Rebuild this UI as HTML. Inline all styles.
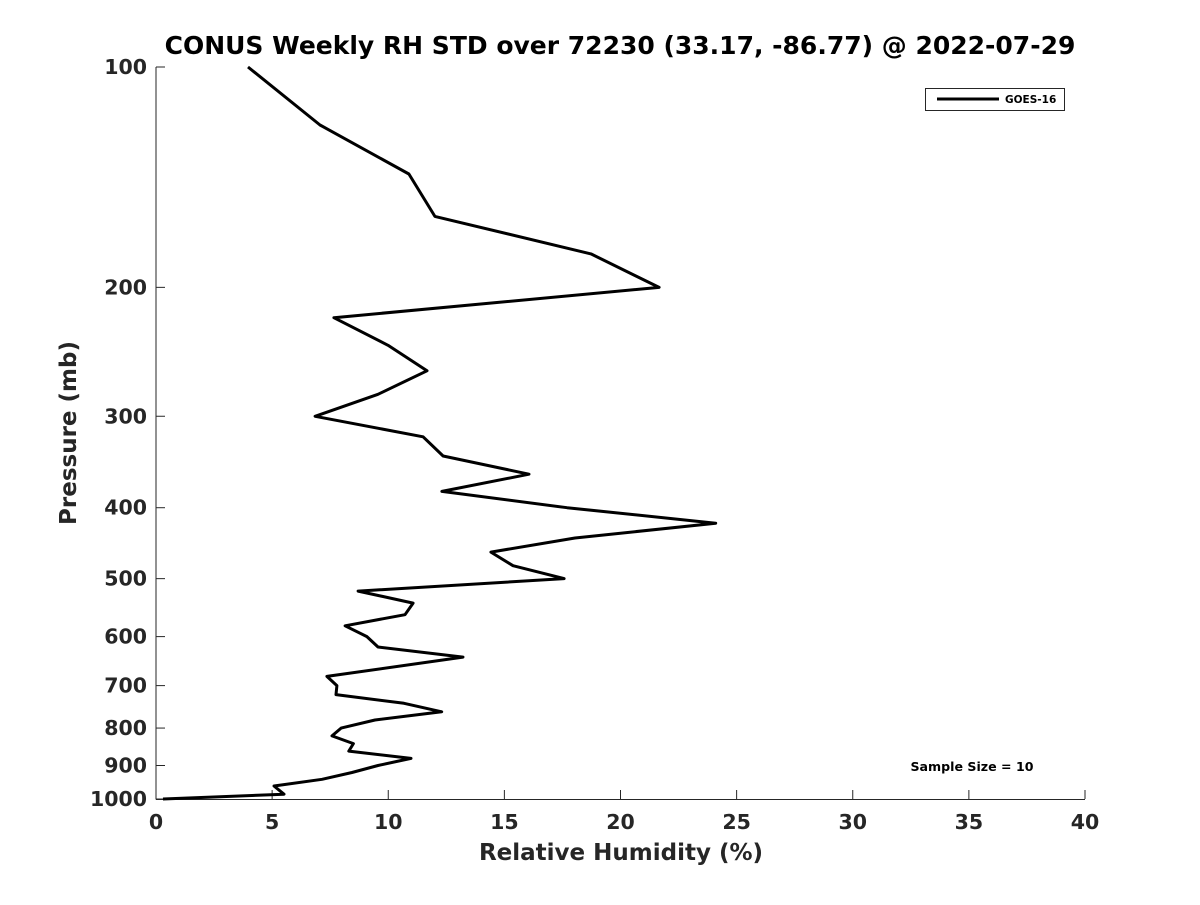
<!DOCTYPE html>
<html><head><meta charset="utf-8"><style>
body{margin:0;background:#fff}
svg text{font-family:"DejaVu Sans","Liberation Sans",sans-serif;font-weight:bold;fill:#262626}
</style></head><body>
<svg id="chart" width="1200" height="900" viewBox="0 0 1200 900" xmlns="http://www.w3.org/2000/svg">
<rect width="1200" height="900" fill="#fff"/>
<text x="620" y="54" text-anchor="middle" font-size="25" style="fill:#000">CONUS Weekly RH STD over 72230 (33.17, -86.77) @ 2022-07-29</text>
<g id="axes"></g>
<path id="series" fill="none" stroke="#000" stroke-width="3" stroke-linejoin="round"/>
<text x="621" y="860" text-anchor="middle" font-size="23">Relative Humidity (%)</text>
<text transform="translate(76,433) rotate(-90)" text-anchor="middle" font-size="23">Pressure (mb)</text>
<g>
<rect x="925.5" y="88.5" width="139" height="22" fill="#fff" stroke="#262626" stroke-width="1"/>
<line x1="937" y1="99" x2="999" y2="99" stroke="#000" stroke-width="3"/>
<text x="1005" y="103" font-size="10.5" style="fill:#000">GOES-16</text>
</g>
<text x="972" y="771" text-anchor="middle" font-size="12.6" style="fill:#000">Sample Size = 10</text>
</svg>
<script>
const pressures=[100,120,140,160,180,200,220,240,260,280,300,320,340,360,380,400,420,440,460,480,500,520,540,560,580,600,620,640,680,700,720,740,760,780,800,820,840,860,880,900,920,940,960,985,1000];
const rhValues=[3.96,7.06,10.89,12.01,18.73,21.66,7.66,9.99,11.67,9.56,6.85,11.5,12.36,16.06,12.31,17.7,24.1,18.04,14.42,15.37,17.57,8.7,11.07,10.72,8.14,9.08,9.56,13.22,7.36,7.79,7.75,10.68,12.3,9.43,7.97,7.58,8.5,8.3,10.98,9.56,8.44,7.15,5.08,5.51,0.3];
const xTicks=[0,5,10,15,20,25,30,35,40];
const yTicks=[100,200,300,400,500,600,700,800,900,1000];
const X0=156,X1=1085,Y0=67,Y1=799;
const xs=v=>X0+(v-0)/40*(X1-X0);
const ys=p=>Y0+Math.log10(p/100)*(Y1-Y0);
const NS='http://www.w3.org/2000/svg';
const ax=document.getElementById('axes');
function mk(tag,attrs,parent){const e=document.createElementNS(NS,tag);for(const k in attrs)e.setAttribute(k,attrs[k]);parent.appendChild(e);return e;}
let l=mk('line',{x1:X0,y1:Y0,x2:X0,y2:Y1+0.5,stroke:'#262626','stroke-width':1},ax);


l=mk('line',{x1:X0,y1:Y1+0.5,x2:X1,y2:Y1+0.5,stroke:'#262626','stroke-width':1},ax);


xTicks.forEach(v=>{const x=xs(v);
 const t=mk('line',{x1:x,y1:Y1,x2:x,y2:Y1-9,stroke:'#262626','stroke-width':1},ax);
 
 
 const tx=mk('text',{x:x,y:829,'text-anchor':'middle','font-size':20.5},ax);tx.textContent=v;
 
 
});
yTicks.forEach(p=>{const y=ys(p);
 const t=mk('line',{x1:X0,y1:y,x2:X0+9,y2:y,stroke:'#262626','stroke-width':1},ax);
 
 
 const tx=mk('text',{x:147,y:y+7,'text-anchor':'end','font-size':20.5},ax);tx.textContent=p;
 
 
});
document.getElementById('series').setAttribute('d',pressures.map((p,i)=>(i?'L':'M')+xs(rhValues[i]).toFixed(1)+','+ys(p).toFixed(1)).join(' '));
</script>
</body></html>
